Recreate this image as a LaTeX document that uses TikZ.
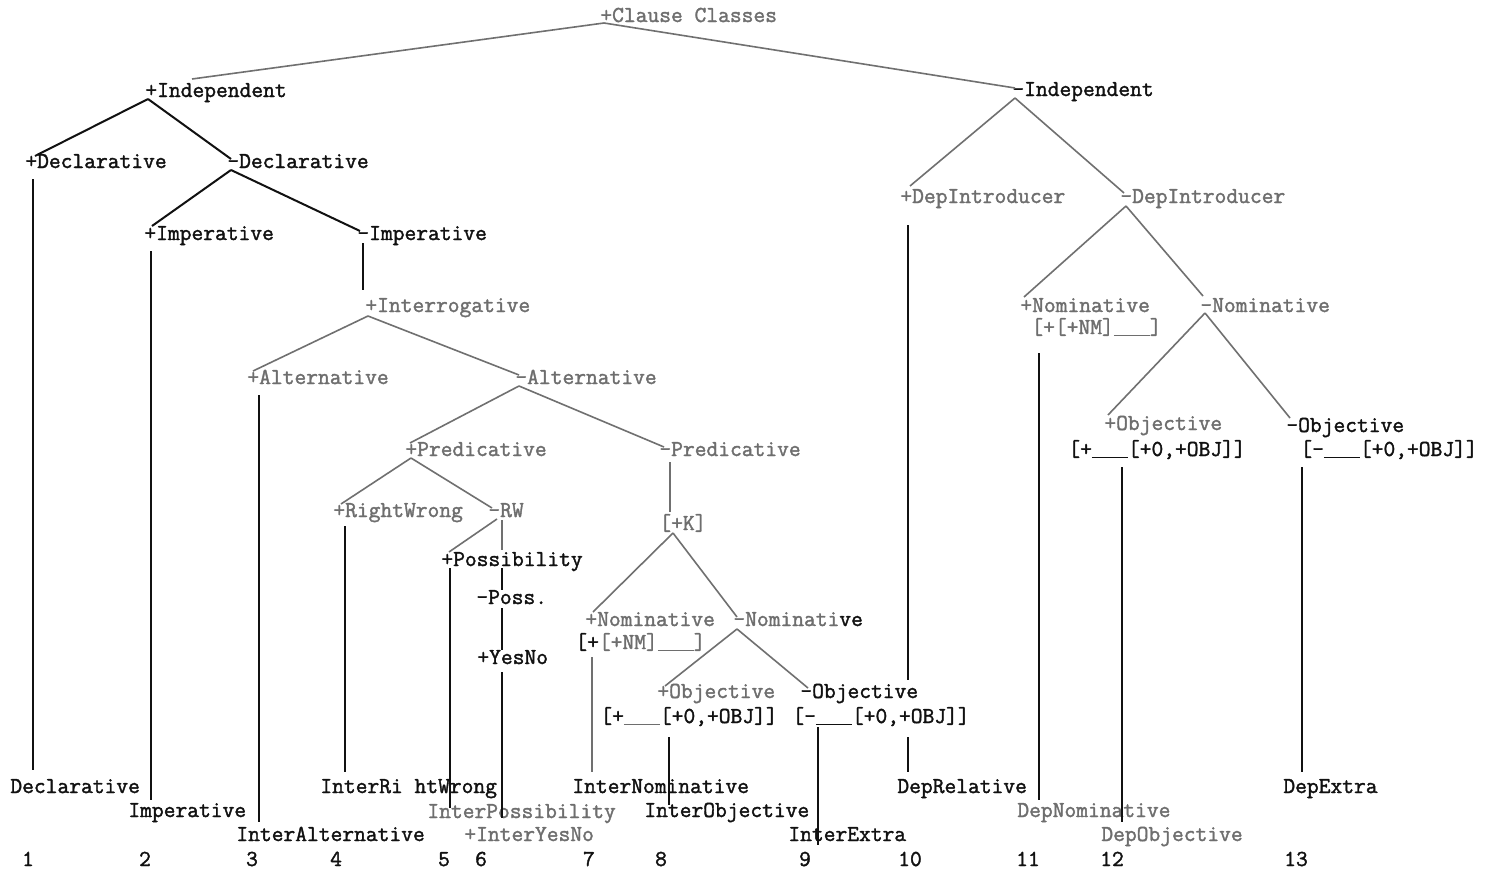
\documentclass[tikz,border=0pt]{standalone}
\usepackage{fontspec}
\newfontfamily\twfont{Latin Modern Mono}[FakeBold=1.6]
\definecolor{ink}{HTML}{111111}
\definecolor{gink}{HTML}{6E6E6E}
\definecolor{gline}{HTML}{707070}
\newcommand{\blank}{\makebox[18pt][l]{\rule[-1.2pt]{18pt}{0.8pt}}}
\tikzset{
  bk/.style={text=ink, inner sep=0pt, anchor=base west, font=\fontsize{11.43}{13}\selectfont\twfont},
  gy/.style={bk, text=gink},
  num/.style={bk, anchor=base},
  bl/.style={draw=ink, line width=1pt},
  gl/.style={draw=gline, line width=0.8pt}
}
\begin{document}
\begin{tikzpicture}[x=0.5pt,y=-0.5pt]
\useasboundingbox[fill=white] (0,0) rectangle (1494,873);
% ---- text nodes
\node[gy] (cc) at (600,22) {+Clause Classes};
\node[bk] (indp) at (145,97) {+Independent};
\node[bk] (indm) at (1012,96) {-Independent};
\node[bk] (declp) at (25,168) {+Declarative};
\node[bk] (declm) at (227,168) {-Declarative};
\node[bk] (impp) at (144,240) {+Imperative};
\node[bk] (impm) at (357,240) {-Imperative};
\node[gy] (intp) at (365,312) {+Interrogative};
\node[gy] (altp) at (247,384) {+Alternative};
\node[gy] (altm) at (515,384) {-Alternative};
\node[gy] (predp) at (405,456) {+Predicative};
\node[gy] (predm) at (659,456) {-Predicative};
\node[gy] (rwp) at (333,517) {+RightWrong};
\node[gy] (rwm) at (488,517) {-RW};
\node[bk] (possp) at (441,566) {+Possibility};
\node[bk] (possm) at (476,604) {-Poss.};
\node[bk] (yesno) at (477,664) {+YesNo};
\node[gy] (k) at (659,530) {[+K]};
\node[gy] (nomp) at (585,626) {+Nominative};
\node[bk] (nompf) at (575,649) {[+\textcolor{gink}{[+NM]\blank]}};
\node[gy] (nomm) at (733,626) {-Nominati\textcolor{ink}{ve}};
\node[gy] (objp) at (657,698) {+Objective};
\node[bk] (objpf) at (600,723) {[+\textcolor{gink}{\blank}[+0,+OBJ]]};
\node[bk] (objm) at (800,698) {-Objective};
\node[bk] (objmf) at (792,723) {[-\blank[+0,+OBJ]]};
\node[gy] (dipp) at (900,203) {+DepIntroducer};
\node[gy] (dipm) at (1120,203) {-DepIntroducer};
\node[gy] (dnomp) at (1020,312) {+Nominative};
\node[gy] (dnompf) at (1031,334) {[+[+NM]\blank]};
\node[gy] (dnomm) at (1200,312) {-Nominative};
\node[gy] (dobjp) at (1104,430) {+Objective};
\node[bk] (dobjpf) at (1068,456) {[+\blank[+0,+OBJ]]};
\node[bk] (dobjm) at (1286,432) {-Objective};
\node[bk] (dobjmf) at (1300,456) {[-\blank[+0,+OBJ]]};
% leaves
\node[bk] (l1) at (10,793) {Declarative};
\node[bk] (l2) at (128,817) {Imperative};
\node[bk] (l3) at (236,841) {InterAlternative};
\node[bk] (l4) at (320,793) {InterRi htWrong};
\node[gy] (l5) at (427,818) {InterPossibility};
\node[gy] (l6) at (464,841) {+InterYesNo};
\node[bk] (l7) at (572,793) {InterNominative};
\node[bk] (l8) at (644,817) {InterObjective};
\node[bk] (l9) at (788,841) {InterExtra};
\node[bk] (l10) at (897,793) {DepRelative};
\node[gy] (l11) at (1017,817) {DepNominative};
\node[gy] (l12) at (1101,841) {DepObjective};
\node[bk] (l13) at (1283,793) {DepExtra};
% numbers
\node[num] (n1) at (28,866) {1};
\node[num] (n2) at (145,866) {2};
\node[num] (n3) at (252,866) {3};
\node[num] (n4) at (336,866) {4};
\node[num] (n5) at (444,866) {5};
\node[num] (n6) at (481,866) {6};
\node[num] (n7) at (589,866) {7};
\node[num] (n8) at (661,866) {8};
\node[num] (n9) at (805,866) {9};
\node[num] (n10) at (910,866) {10};
\node[num] (n11) at (1028,866) {11};
\node[num] (n12) at (1112,866) {12};
\node[num] (n13) at (1296,866) {13};
% ---- connectors
\draw[gl] (604,23) -- (192,79);
\draw[gl] (604,23) -- (1015,88);
\draw[bl] (148,99) -- (35,156);
\draw[bl] (148,99) -- (231,159);
\draw[bl] (33,179) -- (33,770);
\draw[bl] (231,170) -- (152,226);
\draw[bl] (231,170) -- (360,231);
\draw[bl] (151,251) -- (151,800);
\draw[bl] (363,243) -- (363,290);
\draw[gl] (368,316) -- (253,371);
\draw[gl] (368,316) -- (519,375);
\draw[bl] (259,395) -- (259,822);
\draw[gl] (519,386) -- (410,443);
\draw[gl] (519,386) -- (664,447);
\draw[gl] (411,458) -- (341,504);
\draw[gl] (411,458) -- (492,508);
\draw[bl] (345,526) -- (345,772);
\draw[gl] (497,519) -- (449,552);
\draw[gl] (502,520) -- (502,550);
\draw[bl] (450,568) -- (450,808);
\draw[bl] (502,568) -- (502,590);
\draw[bl] (502,608) -- (502,650);
\draw[bl] (502,672) -- (502,818);
\draw[gl] (670,462) -- (670,512);
\draw[gl] (673,533) -- (593,612);
\draw[gl] (673,533) -- (737,617);
\draw[gl] (737,629) -- (665,686);
\draw[gl] (737,629) -- (808,688);
\draw[gl] (592,657) -- (592,772);
\draw[bl] (669,737) -- (669,805);
\draw[bl] (818,727) -- (818,845);
\draw[bl] (908,225) -- (908,680);
\draw[bl] (908,737) -- (908,772);
\draw[gl] (1015,98) -- (910,186);
\draw[gl] (1015,98) -- (1124,193);
\draw[gl] (1126,206) -- (1024,297);
\draw[gl] (1126,206) -- (1203,296);
\draw[bl] (1039,353) -- (1039,800);
\draw[gl] (1205,313) -- (1108,415);
\draw[gl] (1205,313) -- (1290,418);
\draw[bl] (1122,467) -- (1122,822);
\draw[bl] (1302,467) -- (1302,772);
\end{tikzpicture}
\end{document}
